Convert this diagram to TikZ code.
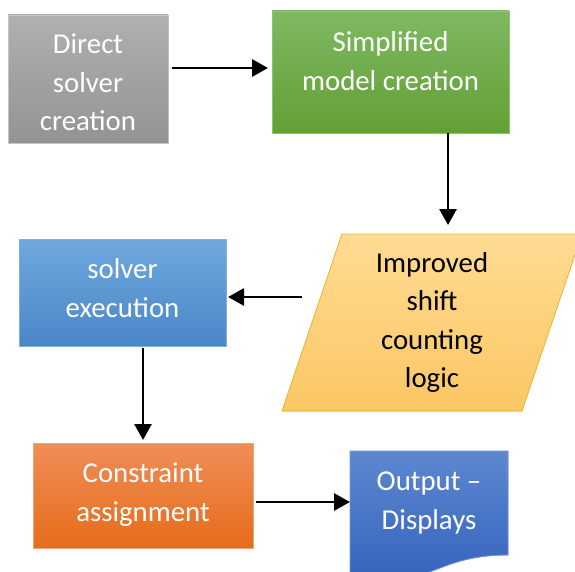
\documentclass[tikz,border=0pt]{standalone}
\usepackage{fontspec}
\setmainfont{Carlito}
\usetikzlibrary{arrows.meta}
\definecolor{grayT}{HTML}{B0B0B0}
\definecolor{grayB}{HTML}{939393}
\definecolor{grayD}{HTML}{C4C4C4}
\definecolor{greenT}{HTML}{7EB961}
\definecolor{greenB}{HTML}{62A035}
\definecolor{greenD}{HTML}{8DC46E}
\definecolor{yelT}{HTML}{FFDB93}
\definecolor{yelB}{HTML}{FBC763}
\definecolor{yelD}{HTML}{F5B72E}
\definecolor{blueT}{HTML}{70A8DD}
\definecolor{blueB}{HTML}{4A87C8}
\definecolor{blueD}{HTML}{7DB1E0}
\definecolor{orT}{HTML}{F08D57}
\definecolor{orB}{HTML}{E66C1A}
\definecolor{orD}{HTML}{F3A273}
\definecolor{outT}{HTML}{5D87D0}
\definecolor{outB}{HTML}{3160BC}
\definecolor{outD}{HTML}{7096D8}
\begin{document}
\begin{tikzpicture}[x=1pt,y=-1pt,
  boxshape/.style={rectangle, line width=0.8pt, inner sep=0pt, outer sep=0pt},
  anchorbox/.style={rectangle, inner sep=0pt, outer sep=0pt},
  txt/.style={anchor=base, align=center, inner sep=0pt, text=white,
    font=\fontsize{28.8}{38.5}\selectfont},
  darktxt/.style={txt, text=black},
  arr/.style={line width=2.8pt, -{Triangle[length=16pt,width=17pt]}}]
\useasboundingbox (0,0) rectangle (575,572);
\clip (0,0) rectangle (575,572);

% Direct solver creation
\node[boxshape, draw=grayD, top color=grayT, bottom color=grayB,
  minimum width=160pt, minimum height=128pt] (direct) at (88,79) {};
\node[txt] (directtxt) at (88,131) {Direct\\solver\\creation};

% Simplified model creation
\node[boxshape, draw=greenD, top color=greenT, bottom color=greenB,
  minimum width=237pt, minimum height=122pt] (simp) at (390.5,72) {};
\node[txt] (simptxt) at (390.5,90.5) {Simplified\\model creation};

% Improved shift counting logic (parallelogram)
\filldraw[line width=0.8pt, draw=yelD, top color=yelT, bottom color=yelB]
  (342,234) -- (582,234) -- (522,411) -- (282,411) -- cycle;
\node[anchorbox, minimum width=240pt, minimum height=177pt] (para) at (432,322.5) {};
\node[darktxt] (paratxt) at (432,387.5) {Improved\\shift\\counting\\logic};

% solver execution
\node[boxshape, draw=blueD, top color=blueT, bottom color=blueB,
  minimum width=207pt, minimum height=107pt] (solver) at (122.5,292.5) {};
\node[txt] (solvertxt) at (122.5,317) {solver\\execution};

% Constraint assignment
\node[boxshape, draw=orD, top color=orT, bottom color=orB,
  minimum width=220pt, minimum height=105pt] (cons) at (143,495.5) {};
\node[txt] (constxt) at (143,521) {Constraint\\assignment};

% Output - Displays (document shape)
\filldraw[line width=0.8pt, draw=outD, top color=outT, bottom color=outB]
  (350,451) -- (508,451) -- (508,555)
  .. controls (429,555) and (429,595) .. (350,572.4) -- cycle;
\node[anchorbox, minimum width=158pt, minimum height=104pt] (out) at (429,503) {};
\node[txt] (outtxt) at (429,529) {Output --\\Displays};

% connectors
\draw[arr, shorten <=4pt, shorten >=4pt] (direct.east |- 0,68) -- (simp.west |- 0,68);
\draw[arr, shorten >=9pt] (simp.south -| 448,0) -- (para.north -| 448,0);
\coordinate (pfrom) at (302,297);
\draw[arr, shorten >=2pt] (pfrom) -- (solver.east |- pfrom);
\draw[arr, shorten <=2pt, shorten >=3pt] (solver.south -| 143,0) -- (cons.north -| 143,0);
\draw[arr, shorten <=3pt] (cons.east |- 0,502) -- (out.west |- 0,502);
\end{tikzpicture}
\end{document}
